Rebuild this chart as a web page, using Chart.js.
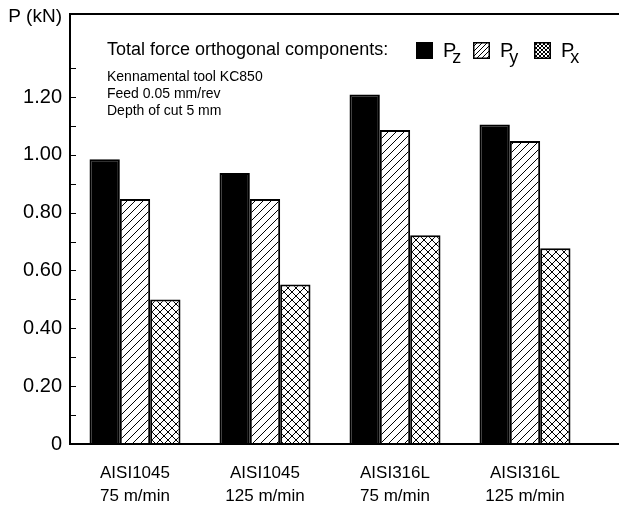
<!DOCTYPE html>
<html>
<head>
<meta charset="utf-8">
<script src="https://cdn.jsdelivr.net/npm/chart.js@4/dist/chart.umd.min.js"></script>
<style>
html,body{margin:0;padding:0;background:#fff;}
#wrap{width:619px;height:508px;position:relative;}
</style>
</head>
<body>
<div id="wrap"><canvas id="c" width="619" height="508"></canvas></div>
<script>
// ---- data ----
const categories = [['AISI1045', '75 m/min'], ['AISI1045', '125 m/min'], ['AISI316L', '75 m/min'], ['AISI316L', '125 m/min']];
const pz = [0.985, 0.937, 1.209, 1.105];
const py = [0.847, 0.847, 1.086, 1.048];
const px = [0.500, 0.552, 0.722, 0.677];
const seriesSubscripts = ['z', 'y', 'x'];
const yTickLabels = ['0', '0.20', '0.40', '0.60', '0.80', '1.00', '1.20'];
const yAxisTitle = 'P (kN)';
const legendTitle = 'Total force orthogonal components:';
const notes = ['Kennamental tool KC850', 'Feed 0.05 mm/rev', 'Depth of cut 5 mm'];

const FONT = "'Liberation Sans', Arial, sans-serif";
Chart.defaults.color = '#000';
Chart.defaults.font.family = FONT;

function makePattern(s, cross) {
  const c = document.createElement('canvas');
  c.width = c.height = s;
  const g = c.getContext('2d');
  g.fillStyle = '#fff';
  g.fillRect(0, 0, s, s);
  g.strokeStyle = '#000';
  g.lineWidth = 1;
  g.beginPath();
  for (const k of [-s, 0, s]) {
    g.moveTo(k, s); g.lineTo(k + s, 0);
    if (cross) { g.moveTo(k, 0); g.lineTo(k + s, s); }
  }
  g.stroke();
  return g.createPattern(c, 'repeat');
}
const ctxMain = document.getElementById('c').getContext('2d');
const hatchPat = makePattern(8, false);
const crossPat = makePattern(8, true);
const hatchSmall = makePattern(5, false);
const crossSmall = makePattern(4, true);
const fills = ['#000', hatchPat, crossPat];
const legendFills = ['#000', hatchSmall, crossSmall];

const decor = {
  id: 'decor',
  afterDraw(chart) {
    const ctx = chart.ctx;
    const a = chart.chartArea;
    const y = chart.scales.y;
    const W = chart.width;
    ctx.save();
    // frame
    ctx.strokeStyle = '#000';
    ctx.lineWidth = 2;
    ctx.beginPath();
    ctx.moveTo(a.left, a.top); ctx.lineTo(a.left, a.bottom + 1);
    ctx.moveTo(a.left - 1, a.top); ctx.lineTo(W, a.top);
    ctx.moveTo(a.left - 1, a.bottom); ctx.lineTo(W, a.bottom);
    ctx.stroke();
    // inward ticks
    ctx.lineWidth = 1;
    ctx.beginPath();
    y.ticks.forEach(t => {
      if (t.value <= 0.0001 || t.value > 1.35) return;
      const p = Math.round(y.getPixelForValue(t.value)) + 0.5;
      ctx.moveTo(a.left, p); ctx.lineTo(a.left + 6, p);
    });
    ctx.stroke();
    // y title
    ctx.fillStyle = '#000';
    ctx.font = '19px ' + FONT;
    ctx.textAlign = 'right';
    ctx.textBaseline = 'middle';
    ctx.fillText(yAxisTitle, 62, 17);
    // legend title
    ctx.textAlign = 'left';
    ctx.font = '18px ' + FONT;
    ctx.fillText(legendTitle, 107, 50);
    // notes
    ctx.font = '14px ' + FONT;
    notes.forEach((n, i) => ctx.fillText(n, 107, 77 + i * 17));
    // legend items
    const boxX = [416, 473, 534];
    chart.data.datasets.forEach((ds, i) => {
      const bx = boxX[i], by = 42;
      ctx.fillStyle = legendFills[i];
      ctx.fillRect(bx, by, 17, 17);
      ctx.strokeStyle = '#000';
      ctx.lineWidth = 1.5;
      ctx.strokeRect(bx + 0.75, by + 0.75, 15.5, 15.5);
      ctx.fillStyle = '#000';
      ctx.textBaseline = 'alphabetic';
      ctx.font = '20px ' + FONT;
      const lx = bx + 27;
      ctx.fillText('P', lx, 57);
      const pw = ctx.measureText('P').width;
      ctx.font = '18px ' + FONT;
      ctx.fillText(seriesSubscripts[i], lx + pw - 4, 63);
      ctx.textBaseline = 'middle';
    });
    ctx.restore();
  }
};

function majorLabel(v) {
  const idx = Math.round(v / 0.2);
  if (Math.abs(v - idx * 0.2) < 1e-6 && idx < yTickLabels.length) return yTickLabels[idx];
  return '';
}

new Chart(ctxMain, {
  type: 'bar',
  data: {
    labels: categories,
    datasets: [pz, py, px].map((d, i) => ({
      label: 'P' + seriesSubscripts[i],
      data: d,
      backgroundColor: fills[i],
      borderColor: '#000',
      borderWidth: 2,
      categoryPercentage: 0.7,
      barPercentage: 1.0
    }))
  },
  options: {
    responsive: false,
    animation: false,
    devicePixelRatio: 1,
    layout: { padding: { top: 14, right: 29, left: 0, bottom: 0 } },
    plugins: { legend: { display: false }, tooltip: { enabled: false } },
    scales: {
      x: {
        grid: { display: false },
        border: { display: false },
        ticks: { font: { size: 17, lineHeight: 1.35 }, padding: 10, maxRotation: 0, autoSkip: false },
        afterFit(s) { s.height = 64; }
      },
      y: {
        min: 0,
        max: 1.487,
        grid: { display: false },
        border: { display: false },
        ticks: {
          stepSize: 0.1,
          autoSkip: false,
          font: { size: 20 },
          padding: 0,
          callback: (v) => majorLabel(v)
        },
        afterFit(s) { s.width = 70; }
      }
    }
  },
  plugins: [decor]
});
</script>
</body>
</html>
